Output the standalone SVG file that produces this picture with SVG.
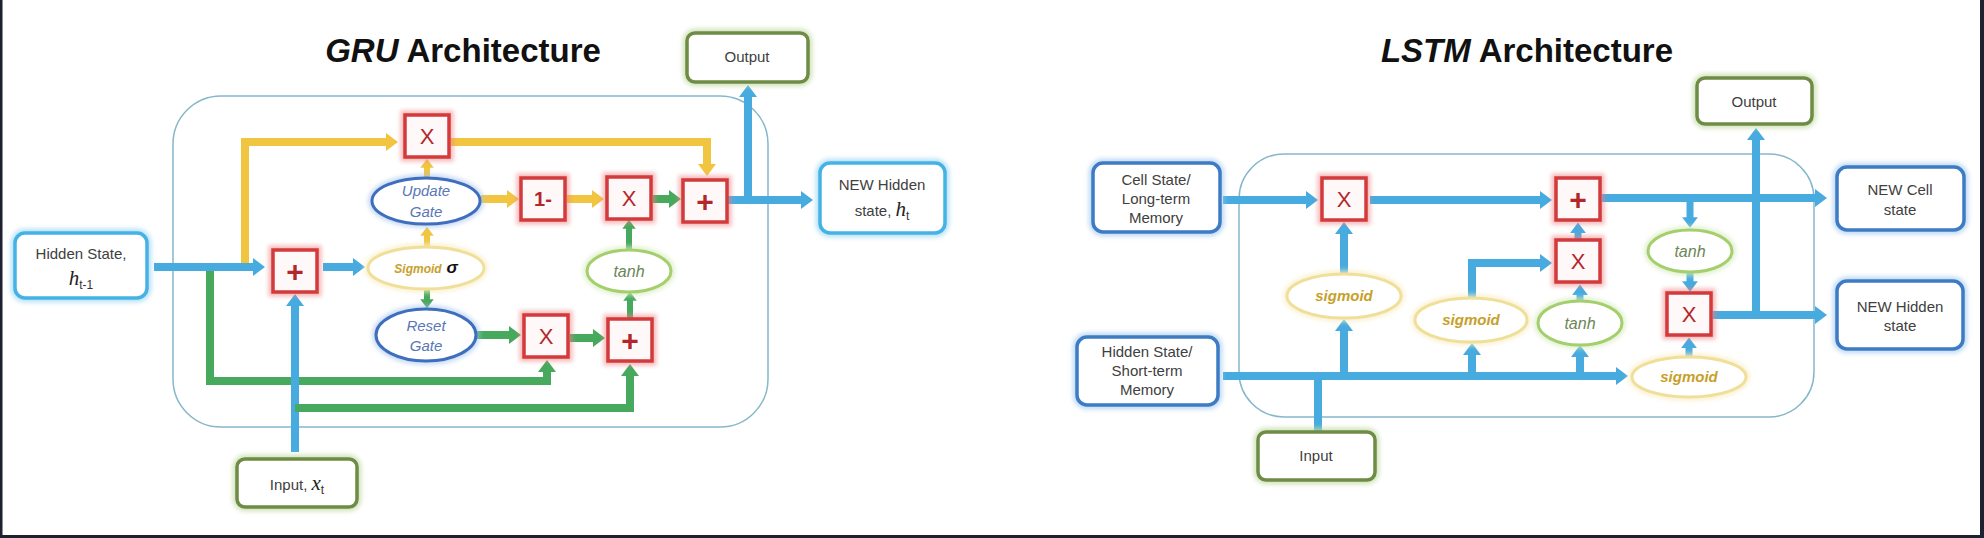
<svg xmlns="http://www.w3.org/2000/svg" width="1984" height="538" viewBox="0 0 1984 538">
<defs>
<filter id="soft" x="-30%" y="-30%" width="160%" height="160%"><feGaussianBlur stdDeviation="2.2"/></filter>
<marker id="mb" viewBox="0 0 12 18" markerWidth="1.5" markerHeight="2.25" refX="1" refY="9" orient="auto"><path d="M0,0L12,9L0,18z" fill="#47abe0"/></marker>
<marker id="my" viewBox="0 0 12 18" markerWidth="1.5" markerHeight="2.25" refX="1" refY="9" orient="auto"><path d="M0,0L12,9L0,18z" fill="#f2c541"/></marker>
<marker id="mg" viewBox="0 0 12 18" markerWidth="1.5" markerHeight="2.25" refX="1" refY="9" orient="auto"><path d="M0,0L12,9L0,18z" fill="#47a95d"/></marker>
<style>
.title{font-family:"Liberation Sans",Arial,sans-serif;font-size:33px;font-weight:bold;fill:#111;text-anchor:middle}
.cont{fill:none;stroke:#86b7ca;stroke-width:1.5}
.c{fill:none;stroke-linejoin:miter}
.cb{stroke:#47abe0;stroke-width:8;marker-end:url(#mb)}
.cbn{stroke:#47abe0;stroke-width:8}
.cy{stroke:#f2c541;stroke-width:8;marker-end:url(#my)}
.cg{stroke:#47a95d;stroke-width:8;marker-end:url(#mg)}
.s6{stroke-width:6}
.s7{stroke-width:7}
.rb{fill:#fff8f8;stroke:#d23a3c;stroke-width:3.5}
.rg{fill:none;stroke:#f27f80;stroke-width:9;opacity:.55;filter:url(#soft)}
.sym{font-family:"Liberation Sans",Arial,sans-serif;fill:#b2272b;text-anchor:middle}
.nc{fill:#fff;stroke:#45b2e6;stroke-width:3.5}
.ncg{fill:none;stroke:#8fd2f2;stroke-width:9;opacity:.6;filter:url(#soft)}
.nbl{fill:#fff;stroke:#3d7cc4;stroke-width:3.5}
.nblg{fill:none;stroke:#9cc6ee;stroke-width:9;opacity:.6;filter:url(#soft)}
.ngr{fill:#fff;stroke:#6e8c45;stroke-width:3.5}
.ngrg{fill:none;stroke:#c3dba6;stroke-width:9;opacity:.7;filter:url(#soft)}
.eb{fill:#fff;stroke:#3e6ebe;stroke-width:3}
.ebg{fill:none;stroke:#a5c3ec;stroke-width:8;opacity:.6;filter:url(#soft)}
.ey{fill:#fff;stroke:#f0df98;stroke-width:3}
.eyg{fill:none;stroke:#f8edc2;stroke-width:8;opacity:.7;filter:url(#soft)}
.eg{fill:#fff;stroke:#a4cf6c;stroke-width:3}
.egg{fill:none;stroke:#d6ebbd;stroke-width:8;opacity:.7;filter:url(#soft)}
.lbl{font-family:"Liberation Sans",Arial,sans-serif;font-size:15px;fill:#404040;text-anchor:middle}
.var{font-family:"Liberation Serif","Times New Roman",serif;font-style:italic;font-size:21px;fill:#222}
.sub{font-family:"Liberation Sans",Arial,sans-serif;font-size:12px;fill:#333}
.gate{font-family:"Liberation Sans",Arial,sans-serif;font-style:italic;font-size:15px;fill:#5876b8;text-anchor:middle}
.sig{font-family:"Liberation Sans",Arial,sans-serif;font-style:italic;font-weight:bold;font-size:15px;fill:#c7a02a;text-anchor:middle}
.tanh{font-family:"Liberation Sans",Arial,sans-serif;font-style:italic;font-size:16px;fill:#6b8658;text-anchor:middle}
</style>
</defs>
<rect x="0" y="0" width="1984" height="538" fill="#ffffff"/>
<rect x="0" y="0" width="2.5" height="538" fill="#1d2130"/>
<rect x="1980" y="0" width="4" height="538" fill="#1d2130"/>
<rect x="0" y="535" width="1984" height="3" fill="#1d2130"/>

<text class="title" x="463" y="62"><tspan font-style="italic">GRU</tspan> Architecture</text>
<text class="title" x="1527" y="62"><tspan font-style="italic">LSTM</tspan> Architecture</text>

<g id="gru-cell"><rect class="cont" x="173" y="96" width="595" height="331" rx="48"/></g>
<g id="lstm-cell"><rect class="cont" x="1239" y="154" width="575" height="263" rx="45"/></g>

<g id="connectors" class="c">
<!-- GRU -->
<path class="c cy" d="M245,267V142H387"/>
<path class="c cg" d="M210,267V381H547V371"/>
<path class="c cb" d="M295,452V305"/>
<path class="c cg" d="M295,408H630V375"/>
<path class="c cb" d="M154,267H254"/>
<path class="c cb" d="M323,267H354"/>
<path class="c cy s6" d="M427,247V235"/>
<path class="c cy s6" d="M427,177V167"/>
<path class="c cg s6" d="M427,289V300"/>
<path class="c cy" d="M481,199H508"/>
<path class="c cy" d="M567,199H593"/>
<path class="c cg" d="M653,199H670"/>
<path class="c cy" d="M451,142H707V165"/>
<path class="c cg s6" d="M629,250V228"/>
<path class="c cg s6" d="M630,318V300"/>
<path class="c cg" d="M476,335H510"/>
<path class="c cg" d="M570,338H594"/>
<path class="c cb" d="M728,200H802"/>
<path class="c cb" d="M748,200V96"/>
<!-- LSTM -->
<path class="c cb" d="M1223,200H1307"/>
<path class="c cb" d="M1370,200H1541"/>
<path class="c cb" d="M1602,198H1816"/>
<path class="c cb s7" d="M1690,198V218"/>
<path class="c cb s7" d="M1690,272V282"/>
<path class="c cb" d="M1713,315H1816"/>
<path class="c cb" d="M1756,315V139"/>
<path class="c cb s7" d="M1689,357V347"/>
<path class="c cb" d="M1223,376H1617"/>
<path class="c cbn" d="M1318,432V376"/>
<path class="c cb" d="M1344,376V330"/>
<path class="c cb" d="M1344,274V233"/>
<path class="c cb" d="M1472,376V354"/>
<path class="c cb" d="M1472,298V263H1541"/>
<path class="c cb s7" d="M1578,240V232"/>
<path class="c cb s7" d="M1580,301V294"/>
<path class="c cb" d="M1580,376V356"/>
</g>

<!-- GRU nodes -->
<g id="gru-hidden-state"><rect class="ncg" x="15" y="233" width="132" height="65" rx="10"/><rect class="nc" x="15" y="233" width="132" height="65" rx="10"/>
<text class="lbl" x="81" y="259">Hidden State,</text>
<text class="lbl" x="81" y="285"><tspan class="var">h</tspan><tspan class="sub" dy="4">t-1</tspan></text></g>

<g id="gru-plus-in"><rect class="rg" x="273" y="250" width="44" height="42"/><rect class="rb" x="273" y="250" width="44" height="42"/><text class="sym" x="295" y="282" font-size="30" font-weight="bold">+</text></g>
<g id="gru-sigmoid"><ellipse class="eyg" cx="426" cy="268" rx="58" ry="21"/><ellipse class="ey" cx="426" cy="268" rx="58" ry="21"/>
<text class="sig" x="426" y="273"><tspan font-size="12">Sigmoid</tspan><tspan font-size="17" fill="#111"> σ</tspan></text></g>
<g id="gru-update-gate"><ellipse class="ebg" cx="426" cy="201" rx="54" ry="23"/><ellipse class="eb" cx="426" cy="201" rx="54" ry="23"/>
<text class="gate" x="426" y="196">Update</text><text class="gate" x="426" y="217">Gate</text></g>
<g id="gru-reset-gate"><ellipse class="ebg" cx="426" cy="335" rx="50" ry="26"/><ellipse class="eb" cx="426" cy="335" rx="50" ry="26"/>
<text class="gate" x="426" y="331">Reset</text><text class="gate" x="426" y="351">Gate</text></g>
<g id="gru-x-top"><rect class="rg" x="405" y="115" width="44" height="42"/><rect class="rb" x="405" y="115" width="44" height="42"/><text class="sym" x="427" y="144" font-size="22">X</text></g>
<g id="gru-one-minus"><rect class="rg" x="521" y="178" width="44" height="42"/><rect class="rb" x="521" y="178" width="44" height="42"/><text class="sym" x="543" y="206" font-size="20" font-weight="bold">1-</text></g>
<g id="gru-x-mid"><rect class="rg" x="607" y="177" width="44" height="42"/><rect class="rb" x="607" y="177" width="44" height="42"/><text class="sym" x="629" y="206" font-size="22">X</text></g>
<g id="gru-plus-out"><rect class="rg" x="683" y="180" width="44" height="42"/><rect class="rb" x="683" y="180" width="44" height="42"/><text class="sym" x="705" y="212" font-size="30" font-weight="bold">+</text></g>
<g id="gru-tanh"><ellipse class="egg" cx="629" cy="271" rx="42" ry="21"/><ellipse class="eg" cx="629" cy="271" rx="42" ry="21"/><text class="tanh" x="629" y="277">tanh</text></g>
<g id="gru-x-bot"><rect class="rg" x="524" y="315" width="44" height="42"/><rect class="rb" x="524" y="315" width="44" height="42"/><text class="sym" x="546" y="344" font-size="22">X</text></g>
<g id="gru-plus-bot"><rect class="rg" x="608" y="319" width="44" height="42"/><rect class="rb" x="608" y="319" width="44" height="42"/><text class="sym" x="630" y="351" font-size="30" font-weight="bold">+</text></g>
<g id="gru-output"><rect class="ngrg" x="687" y="33" width="121" height="49" rx="8"/><rect class="ngr" x="687" y="33" width="121" height="49" rx="8"/><text class="lbl" x="747" y="62">Output</text></g>
<g id="gru-new-hidden"><rect class="ncg" x="820" y="163" width="125" height="70" rx="10"/><rect class="nc" x="820" y="163" width="125" height="70" rx="10"/>
<text class="lbl" x="882" y="190">NEW Hidden</text>
<text class="lbl" x="882" y="216">state, <tspan class="var">h</tspan><tspan class="sub" dy="4">t</tspan></text></g>
<g id="gru-input"><rect class="ngrg" x="237" y="459" width="120" height="48" rx="8"/><rect class="ngr" x="237" y="459" width="120" height="48" rx="8"/>
<text class="lbl" x="297" y="490">Input, <tspan class="var">x</tspan><tspan class="sub" dy="4">t</tspan></text></g>

<!-- LSTM nodes -->
<g id="lstm-cell-state"><rect class="nblg" x="1093" y="163" width="127" height="69" rx="10"/><rect class="nbl" x="1093" y="163" width="127" height="69" rx="10"/>
<text class="lbl" x="1156" y="185">Cell State/</text><text class="lbl" x="1156" y="204">Long-term</text><text class="lbl" x="1156" y="223">Memory</text></g>
<g id="lstm-hidden-state"><rect class="nblg" x="1077" y="337" width="141" height="68" rx="10"/><rect class="nbl" x="1077" y="337" width="141" height="68" rx="10"/>
<text class="lbl" x="1147" y="357">Hidden State/</text><text class="lbl" x="1147" y="376">Short-term</text><text class="lbl" x="1147" y="395">Memory</text></g>
<g id="lstm-input"><rect class="ngrg" x="1258" y="432" width="117" height="48" rx="8"/><rect class="ngr" x="1258" y="432" width="117" height="48" rx="8"/><text class="lbl" x="1316" y="461">Input</text></g>
<g id="lstm-output"><rect class="ngrg" x="1697" y="78" width="115" height="46" rx="8"/><rect class="ngr" x="1697" y="78" width="115" height="46" rx="8"/><text class="lbl" x="1754" y="107">Output</text></g>
<g id="lstm-new-cell"><rect class="nblg" x="1837" y="167" width="127" height="63" rx="10"/><rect class="nbl" x="1837" y="167" width="127" height="63" rx="10"/>
<text class="lbl" x="1900" y="195">NEW Cell</text><text class="lbl" x="1900" y="215">state</text></g>
<g id="lstm-new-hidden"><rect class="nblg" x="1837" y="281" width="126" height="68" rx="10"/><rect class="nbl" x="1837" y="281" width="126" height="68" rx="10"/>
<text class="lbl" x="1900" y="312">NEW Hidden</text><text class="lbl" x="1900" y="331">state</text></g>
<g id="lstm-x-forget"><rect class="rg" x="1322" y="178" width="44" height="42"/><rect class="rb" x="1322" y="178" width="44" height="42"/><text class="sym" x="1344" y="207" font-size="22">X</text></g>
<g id="lstm-plus"><rect class="rg" x="1556" y="178" width="44" height="42"/><rect class="rb" x="1556" y="178" width="44" height="42"/><text class="sym" x="1578" y="210" font-size="30" font-weight="bold">+</text></g>
<g id="lstm-x-input"><rect class="rg" x="1556" y="240" width="44" height="42"/><rect class="rb" x="1556" y="240" width="44" height="42"/><text class="sym" x="1578" y="269" font-size="22">X</text></g>
<g id="lstm-x-output"><rect class="rg" x="1667" y="293" width="44" height="42"/><rect class="rb" x="1667" y="293" width="44" height="42"/><text class="sym" x="1689" y="322" font-size="22">X</text></g>
<g id="lstm-sigmoid-forget"><ellipse class="eyg" cx="1344" cy="296" rx="57" ry="22"/><ellipse class="ey" cx="1344" cy="296" rx="57" ry="22"/><text class="sig" x="1344" y="301">sigmoid</text></g>
<g id="lstm-sigmoid-input"><ellipse class="eyg" cx="1471" cy="320" rx="56" ry="22"/><ellipse class="ey" cx="1471" cy="320" rx="56" ry="22"/><text class="sig" x="1471" y="325">sigmoid</text></g>
<g id="lstm-tanh-input"><ellipse class="egg" cx="1580" cy="323" rx="42" ry="22"/><ellipse class="eg" cx="1580" cy="323" rx="42" ry="22"/><text class="tanh" x="1580" y="329">tanh</text></g>
<g id="lstm-tanh-cell"><ellipse class="egg" cx="1690" cy="251" rx="42" ry="21"/><ellipse class="eg" cx="1690" cy="251" rx="42" ry="21"/><text class="tanh" x="1690" y="257">tanh</text></g>
<g id="lstm-sigmoid-output"><ellipse class="eyg" cx="1689" cy="377" rx="57" ry="20"/><ellipse class="ey" cx="1689" cy="377" rx="57" ry="20"/><text class="sig" x="1689" y="382">sigmoid</text></g>
</svg>
